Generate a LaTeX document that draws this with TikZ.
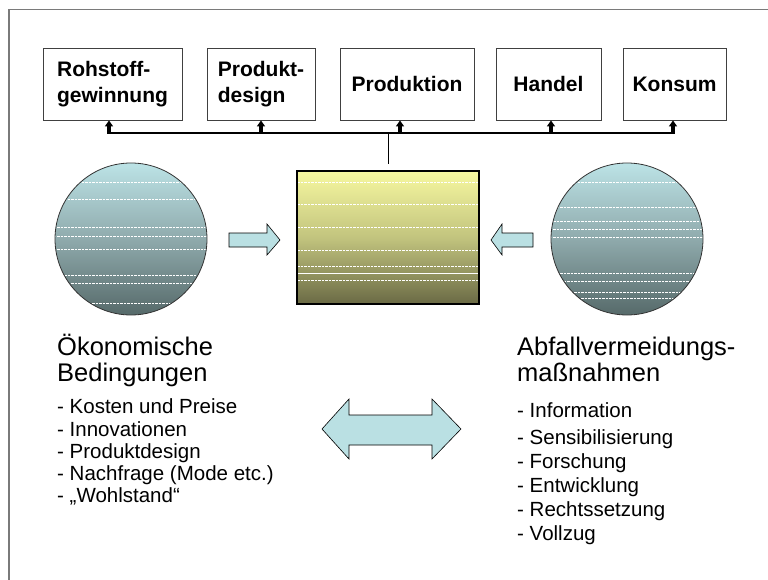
\documentclass[tikz,border=0pt]{standalone}
\usepackage{fontspec}
\setmainfont{Liberation Sans}
\usetikzlibrary{arrows.meta,calc}
\definecolor{ctop}{HTML}{BCE3E6}
\definecolor{cmid}{HTML}{8FAAAC}
\definecolor{cbot}{HTML}{566A6A}
\definecolor{ytop}{HTML}{F7F8A0}
\definecolor{ymid}{HTML}{C2C47E}
\definecolor{ybot}{HTML}{6A6A45}
\definecolor{afill}{HTML}{BAE0E3}
\definecolor{frame}{HTML}{7A7A7A}
\tikzset{
  topbox/.style={draw=black!75, line width=0.9pt, minimum height=72pt, inner sep=0pt,
    font=\fontsize{21}{26}\selectfont\bfseries, align=left},
  ball/.style={circle, minimum size=152pt, inner sep=0pt, top color=ctop, bottom color=cbot, middle color=cmid},
  ballrim/.style={draw=black!80, line width=0.8pt},
  wdash/.style={white, line width=0.7pt, dash pattern=on 2.5pt off 1pt},
  upar/.style={line width=3.2pt, -{Triangle[width=8pt,length=6pt]}},
  bigarrow/.style={fill=afill, draw=black, line width=0.6pt, line join=miter},
  ttl/.style={anchor=base west, inner sep=0pt, font=\fontsize{25.5}{26}\selectfont},
  itm/.style={anchor=base west, inner sep=0pt, font=\fontsize{20.5}{22}\selectfont},
}
\begin{document}
\begin{tikzpicture}[x=1pt,y=-1pt]
\useasboundingbox (0,0) rectangle (768,580);
% frame
\draw[frame, line width=1.2pt] (9,580) -- (9,9.5) -- (768,9.5);

% top boxes
\node[topbox, minimum width=139pt] (rg) at (112.5,84) {Rohstoff-\\gewinnung};
\node[topbox, minimum width=108pt] (pd) at (261,84) {Produkt-\\design};
\node[topbox, minimum width=134pt] (pr) at (407,84) {Produktion};
\node[topbox, minimum width=105pt] (ha) at (548.5,84) {Handel};
\node[topbox, minimum width=103pt] (ko) at (674.5,84) {Konsum};

% central rectangle
\node[draw=black, line width=1.6pt, minimum width=182pt, minimum height=133pt, inner sep=0pt,
      top color=ytop, bottom color=ybot, middle color=ymid] (mid) at (388,237.5) {};
\begin{scope}
  \clip (298,172) rectangle (478,303);
  \foreach \yy in {182,204,227,250,266,280}
    \draw[wdash] (297,\yy) -- (479,\yy);
  \draw[white, line width=0.7pt] (297,273) -- (479,273);
\end{scope}
\node[draw=black, line width=1.6pt, minimum width=182pt, minimum height=133pt, inner sep=0pt] at (mid.center) {};

% bus and connectors
\coordinate (bus) at (388,133);
\coordinate (t1) at ($(rg.south)+(-3.5,0)$);
\coordinate (t2) at (pd.south);
\coordinate (t3) at ($(pr.south)+(-7,0)$);
\coordinate (t4) at ($(ha.south)+(2.5,0)$);
\coordinate (t5) at ($(ko.south)+(-1.5,0)$);
\draw[line width=2pt] (t1 |- bus) -- (t5 |- bus);
\draw[line width=1pt, shorten >=6pt] (bus) -- (mid.north);
\foreach \t in {t1,t2,t3,t4,t5}
  \draw[upar] ($(\t |- bus)+(0,1)$) -- (\t);

% left ball
\node[ball] (lb) at (131,239) {};
\begin{scope}
  \clip (lb.center) circle[radius=75.5pt];
  \foreach \yy in {182,199,227,236,249,275,283,303}
    \draw[wdash] (50,\yy) -- (212,\yy);
\end{scope}
\draw[ballrim] (lb.center) circle[radius=76pt];

% right ball
\node[ball] (rb) at (627,239) {};
\begin{scope}
  \clip (rb.center) circle[radius=75.5pt];
  \foreach \yy in {182,207,221,229,237,273,281,292,298}
    \draw[wdash] (546,\yy) -- (708,\yy);
\end{scope}
\draw[ballrim] (rb.center) circle[radius=76pt];

% block arrows
\draw[bigarrow] (229,233) -- (267,233) -- (267,224) -- (280,240) -- (267,255) -- (267,247) -- (229,247) -- cycle;
\draw[bigarrow] (533,233) -- (502,233) -- (502,224) -- (491,240) -- (502,255) -- (502,247) -- (533,247) -- cycle;
\draw[bigarrow] (322,429) -- (349,399) -- (349,415) -- (432,415) -- (432,399) -- (461,429) -- (432,459) -- (432,445) -- (349,445) -- (349,459) -- cycle;

% left texts
\node[ttl] (l1) at (57,355) {Ökonomische};
\node[ttl] (l2) at (57,381) {Bedingungen};
\node[itm] (l3) at (57,413) {- Kosten und Preise};
\node[itm] (l4) at (57,436) {- Innovationen};
\node[itm] (l5) at (57,458) {- Produktdesign};
\node[itm] (l6) at (57,480) {- Nachfrage (Mode etc.)};
\node[itm] (l7) at (57,502) {- „Wohlstand“};

% right texts
\node[ttl] (r1) at (517,355) {Abfallvermeidungs-};
\node[ttl] (r2) at (517,381) {maßnahmen};
\node[itm] (r3) at (517,417) {- Information};
\node[itm] (r4) at (517,444) {- Sensibilisierung};
\node[itm] (r5) at (517,468) {- Forschung};
\node[itm] (r6) at (517,492) {- Entwicklung};
\node[itm] (r7) at (517,516) {- Rechtssetzung};
\node[itm] (r8) at (517,540) {- Vollzug};
\end{tikzpicture}
\end{document}
